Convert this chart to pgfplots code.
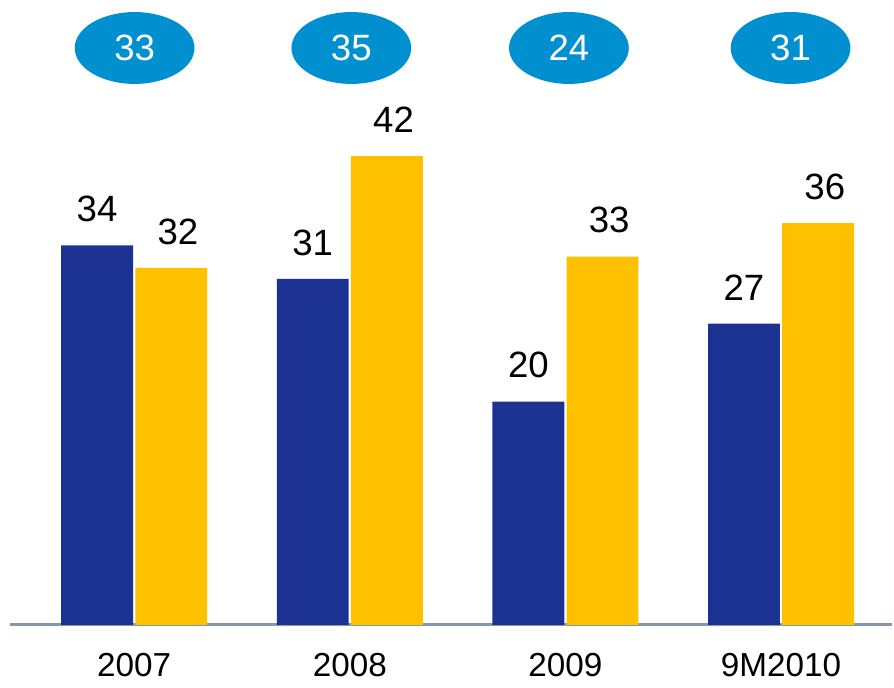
\documentclass[border=0pt]{standalone}
\usepackage{pgfplots}
\pgfplotsset{compat=1.18}
\usepackage{fontspec}
\setmainfont{Liberation Sans}
\usetikzlibrary{shapes.geometric}

\definecolor{cnavy}{RGB}{27,50,146}
\definecolor{cgold}{RGB}{255,192,0}
\definecolor{cbubble}{RGB}{0,144,208}
\definecolor{caxis}{RGB}{136,150,170}

\begin{document}
\begin{tikzpicture}[font=\fontsize{10}{12}\selectfont]
\begin{axis}[
  scale only axis, width=265.2pt, height=187.8pt,
  xmin=-0.576, xmax=3.516, ymin=0, ymax=56,
  axis x line=bottom, axis y line=none,
  x axis line style={-, caxis, line width=1pt},
  xtick={0,1,2,3}, xticklabels={2007,2008,2009,9M2010},
  major tick length=0pt,
  xticklabel style={yshift=-5pt},
  /pgf/number format/assume math mode=true,
  clip=false,
  nodes near coords style={yshift=3.5pt, font=\fontsize{11}{13}\selectfont},
]
  \addplot[ybar, bar width=21.6pt, bar shift=0pt, fill=cnavy, draw=none,
    nodes near coords, point meta=explicit symbolic]
    coordinates {(-0.172,34)[34] (0.828,31)[31] (1.828,20)[20] (2.828,27)[27]};
  \addplot[ybar, bar width=21.6pt, bar shift=0pt, fill=cgold, draw=none,
    nodes near coords, point meta=explicit symbolic,
    every node near coord/.append style={xshift=2pt}]
    coordinates {(0.172,32)[32] (1.172,42)[42] (2.172,33)[33] (3.172,36)[36]};
  \addplot[draw=none, mark=none, nodes near coords, point meta=explicit symbolic,
    every node near coord/.style={ellipse, fill=cbubble, text=white,
      font=\fontsize{11}{13}\selectfont,
      minimum width=36pt, minimum height=21.6pt, inner sep=0pt, anchor=center}]
    coordinates {(0.002,51.7)[33] (1.007,51.7)[35] (2.016,51.7)[24] (3.044,51.7)[31]};
\end{axis}
\path (-3pt,-16.8pt) rectangle (265.2pt,187.8pt);
\end{tikzpicture}
\end{document}
